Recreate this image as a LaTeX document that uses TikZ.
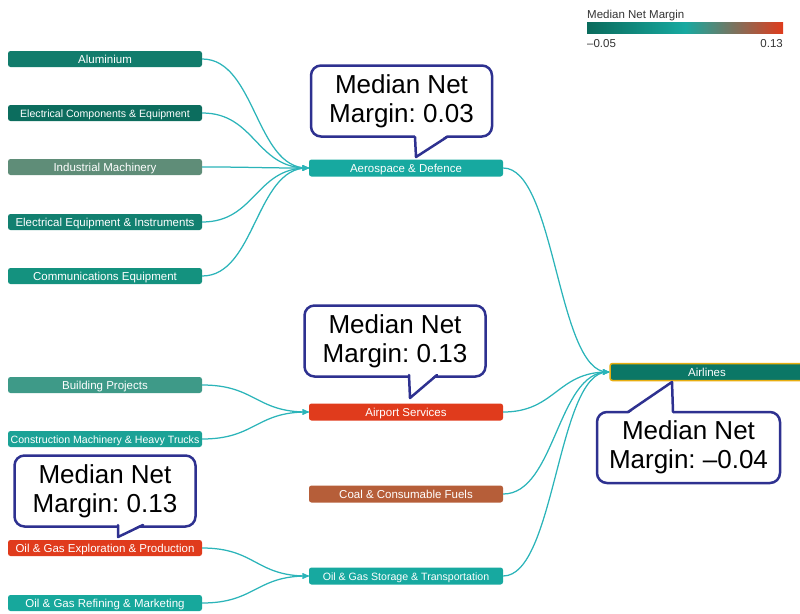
\documentclass[tikz,border=0pt]{standalone}
\usepackage{fontspec}
\setsansfont{Liberation Sans}
\usetikzlibrary{arrows}
\frenchspacing

\definecolor{alucol}{HTML}{127C6C}
\definecolor{compcol}{HTML}{0C6D5E}
\definecolor{machcol}{HTML}{5F8D78}
\definecolor{instrcol}{HTML}{128070}
\definecolor{commscol}{HTML}{14927F}
\definecolor{buildcol}{HTML}{3E9A88}
\definecolor{truckcol}{HTML}{1BA296}
\definecolor{hotcol}{HTML}{E03B1C}
\definecolor{refcol}{HTML}{17A89C}
\definecolor{midcol}{HTML}{17A9A0}
\definecolor{coalcol}{HTML}{B65E39}
\definecolor{airlcol}{HTML}{0B7766}
\definecolor{goldcol}{HTML}{E8AE10}
\definecolor{linkcol}{HTML}{2BB4B9}
\definecolor{navycol}{HTML}{2E3190}
\definecolor{lowcol}{HTML}{0A6B5C}

\begin{document}
\begin{tikzpicture}[x=1pt, y=-1pt, font=\sffamily,
>=stealth',
sector/.style={rounded corners=2.5pt, minimum width=194pt, minimum height=16pt,
  inner sep=0pt, text=white, text height=9pt, text depth=1pt,
  font=\sffamily\fontsize{11.5}{12}\selectfont},
shrunk/.style={font=\sffamily\fontsize{10.6}{12}\selectfont},
bubble/.style={draw=navycol, line width=2.5pt, fill=white, rounded corners=10pt,
  outer sep=0pt, minimum width=181pt, minimum height=71pt, align=center,
  font=\sffamily\fontsize{26}{29}\selectfont},
every node/.style={scale=1.0}]
\tikzstyle{link} = [->, draw=linkcol, line width=1.25pt]
\tikzstyle{tail} = [draw=navycol, line width=2.5pt, line join=round, line cap=round]
\useasboundingbox (0,0) rectangle (800,613);

% left column
\node[sector, fill=alucol] (alu) at (105,59) {Aluminium};
\node[sector, fill=compcol, shrunk] (comp) at (105,113) {Electrical Components \& Equipment};
\node[sector, fill=machcol] (mach) at (105,167) {Industrial Machinery};
\node[sector, fill=instrcol] (instr) at (105,222) {Electrical Equipment \& Instruments};
\node[sector, fill=commscol] (comms) at (105,276) {Communications Equipment};
\node[sector, fill=buildcol] (build) at (105,385) {Building Projects};
\node[sector, fill=truckcol, shrunk] (truck) at (105,439) {Construction Machinery \& Heavy Trucks};
\node[sector, fill=hotcol] (explo) at (105,548) {Oil \& Gas Exploration \& Production};
\node[sector, fill=refcol] (refin) at (105,603) {Oil \& Gas Refining \& Marketing};

% middle column
\node[sector, fill=midcol, minimum height=17pt] (aero) at (406,168) {Aerospace \& Defence};
\node[sector, fill=hotcol, minimum height=17pt] (airport) at (406,412) {Airport Services};
\node[sector, fill=coalcol, minimum height=17pt] (coal) at (406,494) {Coal \& Consumable Fuels};
\node[sector, fill=midcol, minimum height=17pt, shrunk] (storage) at (406,576) {Oil \& Gas Storage \& Transportation};

% target
\node[sector, fill=airlcol, draw=goldcol, line width=1.5pt, minimum height=17pt] (airl) at (707,372) {Airlines};

% links
\foreach \src in {alu,comp,mach,instr,comms}
  \draw[link] (\src.east) .. controls +(53,0) and +(-53,0) .. (aero.west);
\foreach \src in {build,truck}
  \draw[link] (\src.east) .. controls +(53,0) and +(-53,0) .. (airport.west);
\foreach \src in {explo,refin}
  \draw[link] (\src.east) .. controls +(53,0) and +(-53,0) .. (storage.west);
\foreach \src in {aero,airport,coal,storage}
  \draw[link] (\src.east) .. controls +(52,0) and +(-52,0) .. (airl.west);

% legend
\node[minimum width=196pt, minimum height=11pt, inner sep=0pt, anchor=north west,
  left color=lowcol, right color=hotcol, middle color=midcol] (bar) at (587,22) {};
\node[anchor=base west, inner sep=0pt, text=black!80, font=\sffamily\fontsize{11.5}{12}\selectfont]
  (legtitle) at (587,18) {Median Net Margin};
\node[anchor=base west, inner sep=0pt, text=black!80, font=\sffamily\fontsize{11.5}{12}\selectfont]
  (lo) at (587,47) {\textendash0.05};
\node[anchor=base east, inner sep=0pt, text=black!80, font=\sffamily\fontsize{11.5}{12}\selectfont]
  (hi) at (783,47) {0.13};

% callouts
\node[bubble] (bubaero) at (401.5,101) {Median Net\\Margin: 0.03};
\fill[white] (415,135) -- (416,157) -- (447,135) -- cycle;
\draw[tail] (415,137) -- (416,157) -- (447,137);

\node[bubble] (bubport) at (395,341) {Median Net\\Margin: 0.13};
\fill[white] (409,373) -- (410,398) -- (437,373) -- cycle;
\draw[tail] (409,375) -- (410,398) -- (437,375);

\node[bubble] (bubexplo) at (105,491) {Median Net\\Margin: 0.13};
\fill[white] (118,523) -- (118,537) -- (143,523) -- cycle;
\draw[tail] (118,525) -- (118,537) -- (143,525);

\node[bubble, minimum width=183pt] (bubairl) at (688.5,447.5) {Median Net\\Margin: \textendash0.04};
\fill[white] (628,414) -- (672,382) -- (673,414) -- cycle;
\draw[tail] (628,412) -- (672,382) -- (673,412);

\end{tikzpicture}
\end{document}
